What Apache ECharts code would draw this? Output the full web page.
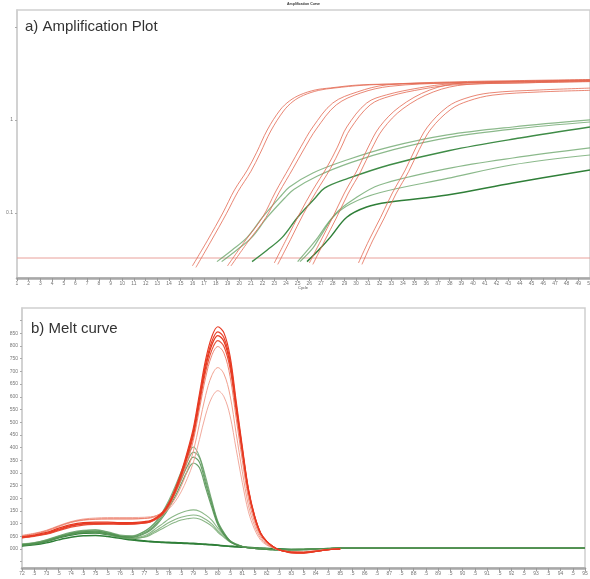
<!DOCTYPE html>
<html><head><meta charset="utf-8">
<script src="https://cdn.jsdelivr.net/npm/echarts@6/dist/echarts.min.js"></script>
<style>html,body{margin:0;padding:0;background:#fff}#c{width:590px;height:579px}</style>
</head><body><div id="c"></div>
<script>
// ---------- a) Amplification plot (cycle, normalized fluorescence, log axis) ----------
const ampThreshold = 0.0328;
const ampRed1a = [[16.0,0.027],[17.3,0.051],[18.6,0.10],[19.6,0.177],[20.7,0.29],[21.5,0.45],[22.4,0.78],[23.5,1.28],[24.3,1.60],[25.2,1.86],[26.5,2.10],[27.8,2.21],[30.3,2.38],[33.7,2.44],[38,2.50],[44,2.56],[50,2.63]];
const ampRed1b = [[16.3,0.026],[17.6,0.05],[18.9,0.098],[19.9,0.17],[21.0,0.28],[21.8,0.44],[22.7,0.76],[23.8,1.25],[24.6,1.58],[25.5,1.84],[26.8,2.08],[28.1,2.2],[30.6,2.36],[34,2.45],[38,2.52],[44,2.6],[50,2.68]];
const ampRed2a = [[19.0,0.027],[20.5,0.05],[22.0,0.09],[23.1,0.168],[24.3,0.31],[25.3,0.52],[26.3,0.84],[28.0,1.52],[30.1,2.0],[32.6,2.38],[38,2.56],[44,2.65],[50,2.72]];
const ampRed2b = [[19.3,0.027],[20.8,0.05],[22.3,0.09],[23.4,0.165],[24.6,0.30],[25.6,0.5],[26.6,0.8],[28.3,1.45],[30.4,1.95],[32.9,2.3],[38,2.5],[44,2.6],[50,2.66]];
const ampRed3a = [[23.0,0.029],[24.1,0.054],[25.2,0.10],[26.3,0.177],[27.5,0.31],[28.4,0.51],[29.2,0.84],[30.9,1.52],[32.6,1.86],[35.4,2.21],[38,2.44],[44,2.56],[50,2.63]];
const ampRed3b = [[23.3,0.028],[24.4,0.052],[25.5,0.098],[26.6,0.17],[27.8,0.3],[28.7,0.5],[29.5,0.8],[31.2,1.45],[32.9,1.8],[35.7,2.15],[38.3,2.38],[44,2.5],[50,2.58]];
const ampRed4a = [[26.0,0.029],[27.0,0.051],[28.0,0.09],[29.0,0.164],[30.1,0.29],[31.0,0.5],[32.0,0.84],[33.7,1.38],[36.3,2.1],[39.1,2.5],[44,2.6],[50,2.7]];
const ampRed4b = [[26.3,0.028],[27.3,0.05],[28.3,0.088],[29.3,0.16],[30.4,0.28],[31.3,0.48],[32.3,0.8],[34.0,1.32],[36.6,2.0],[39.4,2.4],[44,2.5],[50,2.6]];
const ampRed5a = [[30.2,0.029],[31.1,0.051],[32.1,0.09],[33.1,0.164],[34.2,0.29],[35.1,0.5],[36.1,0.84],[37.8,1.38],[39.3,1.7],[41.4,1.95],[45.7,2.1],[50,2.2]];
const ampRed5b = [[30.5,0.028],[31.4,0.05],[32.4,0.088],[33.4,0.16],[34.5,0.28],[35.4,0.48],[36.4,0.8],[38.1,1.3],[39.6,1.6],[41.7,1.85],[45.7,2.0],[50,2.08]];
const ampGreenAa = [[18.1,0.03],[19.4,0.04],[20.7,0.055],[22.0,0.09],[23.5,0.149],[24.3,0.19],[26.3,0.269],[29.2,0.371],[32.9,0.513],[37.8,0.69],[43.4,0.84],[50,1.0]];
const ampGreenAb = [[18.5,0.03],[19.8,0.04],[21.1,0.055],[22.4,0.09],[23.9,0.145],[24.7,0.18],[26.7,0.25],[29.6,0.35],[33.2,0.48],[38,0.65],[43.5,0.8],[50,0.95]];
const ampGreenB = [[21.1,0.03],[22.4,0.04],[23.7,0.055],[25.0,0.09],[26.5,0.145],[27.3,0.185],[29.3,0.235],[32.9,0.33],[38,0.47],[44,0.64],[50,0.84]];
const ampGreenC = [[25.2,0.03],[26.3,0.042],[26.9,0.055],[28.3,0.1],[29.7,0.138],[32.0,0.2],[37.8,0.3],[43.4,0.39],[50,0.5]];
const ampGreenD = [[25.0,0.03],[26.5,0.05],[28.0,0.09],[29.5,0.125],[32.0,0.165],[37.8,0.235],[43.4,0.33],[50,0.42]];
const ampGreenE = [[25.8,0.03],[26.8,0.04],[27.8,0.055],[29.2,0.09],[30.9,0.116],[32.9,0.131],[37.8,0.156],[43.4,0.21],[50,0.29]];

// ---------- b) Melt curve (temperature, -dF/dT) ----------
const meltTemps = [72,72.5,73,73.5,74,74.5,75,75.5,76,76.5,77,
  77.25,77.5,77.75,78,78.25,78.5,78.75,79,79.25,79.5,79.75,80,80.25,80.5,80.75,81,81.25,81.5,81.75,82,82.25,82.5,82.75,83,
  83.5,84,84.5,85,87,90,95];
const meltRed1 = [47,53,62,78,92,100,102,102,101,101,105, 110,124,145,182,236,302,383,476,612,745,836,876,852,760,582,404,238,132,63,30,10,-3,-10,-15, -16,-10,-3,0];
const meltRed2 = [45,52,60,75,90,98,100,100,99,99,103, 108,121,141,177,230,295,374,465,598,728,817,856,833,743,569,395,233,129,62,29,10,-3,-10,-14, -15,-10,-3,0];
const meltRed3 = [48,55,65,82,96,104,106,106,104,104,108, 112,124,143,177,228,291,368,458,588,716,803,841,818,730,559,388,229,127,61,29,10,-3,-9,-13, -14,-9,-3,0];
const meltRed4 = [44,50,58,72,86,94,97,98,97,98,102, 107,118,137,171,221,283,359,446,573,698,783,821,798,712,545,379,223,124,59,28,9,-3,-9,-13, -14,-9,-3,0];
const meltRed5 = [52,60,72,90,106,115,118,119,119,119,121, 124,132,147,175,218,272,342,428,552,675,762,798,772,680,515,350,200,108,50,22,6,-4,-9,-12, -12,-8,-3,0];
const meltRed6 = [50,58,70,88,104,113,117,118,118,118,120, 122,128,140,163,198,246,308,385,494,605,683,715,690,605,455,305,172,92,42,18,5,-4,-8,-11, -11,-7,-2,0];
const meltRed7 = [54,62,74,92,108,118,122,124,124,124,125, 127,131,140,158,186,225,277,341,432,528,596,624,600,525,393,262,147,78,35,15,4,-4,-8,-10, -10,-6,-2,0];
const meltGreen1 = [16,21,32,49,64,72,75,66,52,50,70, 87,112,148,192,245,305,362,402,365,285,193,110,65,33,20,10,6,2,0,-2,-3,-4,-4,-3, -2,0,2,3, 3,3,3];
const meltGreen2 = [18,24,36,52,66,74,76,68,55,52,69, 85,108,142,184,234,290,344,382,360,272,185,106,63,32,18,10,5,2,0,-2,-3,-4,-4,-3, -2,0,2,3, 3,3,3];
const meltGreen3 = [14,19,30,45,60,68,70,63,51,48,64, 79,101,133,172,220,273,326,362,342,258,176,101,60,30,17,9,5,2,0,-2,-3,-4,-4,-3, -2,0,2,3, 3,3,3];
const meltGreen4 = [16,21,31,46,58,65,66,60,49,46,60, 74,95,125,161,206,256,306,339,320,242,165,95,56,28,16,9,5,2,0,-2,-3,-4,-4,-3, -2,0,2,3, 3,3,3];
const meltGreenS1 = [18,22,33,48,60,68,68,60,48,42,52, 65,83,100,118,132,143,151,154,149,134,114,82,57,33,19,11,6,3,1,0,-2,-2,-2,-2, -1,0,2,3, 3,3,3];
const meltGreenS2 = [16,21,31,45,57,64,64,57,46,40,48, 59,74,89,104,116,125,131,134,130,117,99,72,50,29,17,10,5,3,1,0,-2,-2,-2,-2, -1,0,2,3, 3,3,3];
const meltGreenS3 = [20,25,35,50,62,70,71,63,50,42,46, 55,68,81,94,105,114,119,122,118,106,90,66,46,27,16,9,5,3,1,0,-2,-2,-2,-2, -1,0,2,3, 3,3,3];
const meltGreenF1 = [14,20,30,44,55,62,63,57,47,38,32, 30,28,27,26,25,24,23,22,20,19,17,15,13,11,9,8,6,5,3,2,1,0,-1,-2, -2,0,1,3, 3,3,3];
const meltGreenF2 = [12,16,24,36,46,52,53,49,42,35,30, 28,27,25,24,23,22,21,20,19,17,16,14,12,10,9,7,6,4,3,2,1,0,-1,-2, -2,0,1,3, 3,3,3];

// ---------- build ----------
const chart = echarts.init(document.getElementById('c'), null, {renderer:'canvas'});
function amp(data, color, width) {
  return {type:'line', xAxisIndex:0, yAxisIndex:0, data:data, showSymbol:false, smooth:0.35,
    silent:true, lineStyle:{color:color, width:width}};
}
function melt(vals, color, width) {
  return {type:'line', xAxisIndex:1, yAxisIndex:1, data:vals.map((v,i)=>[meltTemps[i], v]),
    showSymbol:false, smooth:0.35, silent:true, lineStyle:{color:color, width:width}};
}
const redA = 'rgba(228,105,82,0.8)';
const gLight = 'rgba(90,155,90,0.7)';
const gDark = '#2f7f38';
const series = [
  {type:'line', xAxisIndex:0, yAxisIndex:0, data:[[1,ampThreshold],[50,ampThreshold]], showSymbol:false, silent:true, lineStyle:{color:'#e9a09a', width:1}},
  amp(ampGreenAa, gLight, 1.2), amp(ampGreenAb, gLight, 1.2), amp(ampGreenB, '#3f8c47', 1.4),
  amp(ampGreenC, gLight, 1.2), amp(ampGreenD, gLight, 1.2), amp(ampGreenE, gDark, 1.5),
  amp(ampRed1a, redA, 1), amp(ampRed1b, redA, 1), amp(ampRed2a, redA, 1), amp(ampRed2b, redA, 1),
  amp(ampRed3a, redA, 1), amp(ampRed3b, redA, 1), amp(ampRed4a, redA, 1), amp(ampRed4b, redA, 1),
  amp(ampRed5a, redA, 1), amp(ampRed5b, redA, 1),
  melt(meltGreenF1, gDark, 1.6), melt(meltGreenF2, gDark, 1.4),
  melt(meltGreenS1, 'rgba(110,165,105,0.8)', 1.1), melt(meltGreenS2, 'rgba(110,165,105,0.8)', 1.1), melt(meltGreenS3, 'rgba(110,165,105,0.8)', 1.1),
  melt(meltGreen1, 'rgba(95,155,95,0.8)', 1.1), melt(meltGreen2, 'rgba(95,155,95,0.8)', 1.1),
  melt(meltGreen3, 'rgba(80,145,80,0.85)', 1.2), melt(meltGreen4, 'rgba(80,145,80,0.85)', 1.2),
  melt(meltRed7, 'rgba(240,160,145,0.9)', 1), melt(meltRed6, 'rgba(240,150,130,0.9)', 1),
  melt(meltRed5, 'rgba(236,120,100,0.9)', 1), melt(meltRed4, '#e9503a', 1.2),
  melt(meltRed2, '#e7442e', 1.2), melt(meltRed3, '#e6391f', 1.3), melt(meltRed1, '#e83a24', 1.2)
];
const tinyLbl = {fontSize:5, color:'#777', fontFamily:'Liberation Sans'};
chart.setOption({
  animation:false,
  backgroundColor:'#fff',
  grid:[
    {left:17, top:10, right:0, bottom:301, show:true, borderColor:'#cfcfcf', borderWidth:1.5, containLabel:false, outerBoundsMode:'none'},
    {left:22, top:308, right:5, bottom:11, show:true, borderColor:'#cfcfcf', borderWidth:1.5, containLabel:false, outerBoundsMode:'none'}
  ],
  xAxis:[
    {type:'value', gridIndex:0, min:1, max:50, interval:1,
     axisLine:{onZero:false, lineStyle:{color:'#a8a8a8', width:2.5}}, axisTick:{length:3, lineStyle:{color:'#999'}},
     axisLabel:Object.assign({margin:3}, tinyLbl), splitLine:{show:false}},
    {type:'value', gridIndex:1, min:72, max:95, interval:0.5,
     axisLine:{onZero:false, lineStyle:{color:'#a8a8a8', width:2.5}}, axisTick:{length:3, lineStyle:{color:'#999'}},
     axisLabel:Object.assign({margin:3, formatter:v=> (Math.abs(v-Math.round(v))<1e-6 ? String(Math.round(v)) : '.5')}, tinyLbl), splitLine:{show:false}}
  ],
  yAxis:[
    {type:'log', gridIndex:0, min:0.02, max:15.2, logBase:10,
     axisLine:{show:true, onZero:false, lineStyle:{color:'#cfcfcf', width:1.5}}, axisTick:{show:true, length:2, lineStyle:{color:'#aaa'}},
     axisLabel:Object.assign({margin:4, showMinLabel:false, showMaxLabel:false,
       formatter:v=> (Math.abs(v-0.1)<1e-6 ? '0.1' : (Math.abs(v-1)<1e-6 ? '1' : ''))}, tinyLbl),
     splitLine:{show:false}},
    {type:'value', gridIndex:1, min:-75, max:950, splitNumber:20,
     name:'-dF/dT', nameLocation:'middle', nameGap:13, nameTextStyle:{fontSize:4, color:'#777'},
     axisLine:{show:true, onZero:false, lineStyle:{color:'#cfcfcf', width:1.5}}, axisTick:{show:true, length:2, lineStyle:{color:'#aaa'}},
     axisLabel:Object.assign({margin:4, showMinLabel:false, showMaxLabel:false,
       formatter:v=> ((v<0 || v>850) ? '' : String(v).padStart(3,'0'))}, tinyLbl),
     splitLine:{show:false}}
  ],
  graphic:[
    {type:'text', left:25, top:19, style:{text:'a) Amplification Plot', fontSize:15, fill:'#333', fontFamily:'Liberation Sans'}},
    {type:'text', left:31, top:321, style:{text:'b) Melt curve', fontSize:15, fill:'#333', fontFamily:'Liberation Sans'}},
    {type:'text', left:287, top:2, style:{text:'Amplification Curve', fontSize:3.5, fill:'#333', fontWeight:'bold', fontFamily:'Liberation Sans'}},
    {type:'text', left:298, top:286, style:{text:'Cycle', fontSize:4, fill:'#555', fontFamily:'Liberation Sans'}}
  ],
  series:series
});
</script></body></html>
